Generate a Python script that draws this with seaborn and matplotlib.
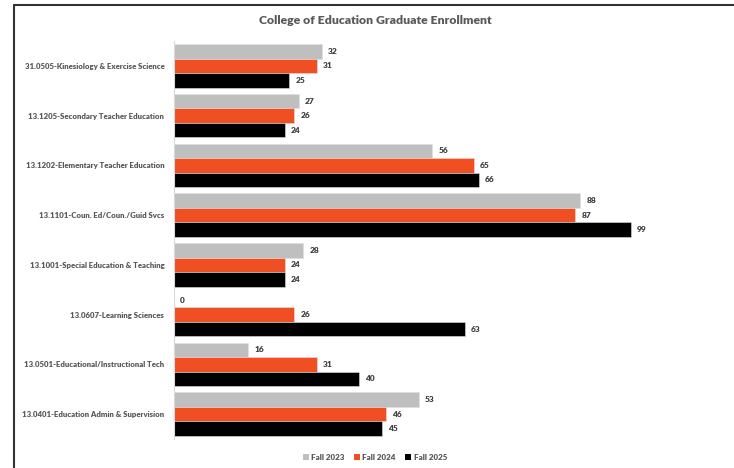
import matplotlib
matplotlib.use("Agg")
import matplotlib.pyplot as plt
import seaborn as sns
import pandas as pd
from matplotlib.patches import Patch
from matplotlib.lines import Line2D

categories = [
    "31.0505-Kinesiology & Exercise Science",
    "13.1205-Secondary Teacher Education",
    "13.1202-Elementary Teacher Education",
    "13.1101-Coun. Ed/Coun./Guid Svcs",
    "13.1001-Special Education & Teaching",
    "13.0607-Learning Sciences",
    "13.0501-Educational/Instructional Tech",
    "13.0401-Education Admin & Supervision",
]
series = ["Fall 2023", "Fall 2024", "Fall 2025"]
fall_2023 = [32, 27, 56, 88, 28, 0, 16, 53]
fall_2024 = [31, 26, 65, 87, 24, 26, 31, 46]
fall_2025 = [25, 24, 66, 99, 24, 63, 40, 45]
colors = ["#BFBFBF", "#F04E23", "#000000"]

rows = []
for name, vals in zip(series, [fall_2023, fall_2024, fall_2025]):
    for c, v in zip(categories, vals):
        rows.append({"Program": c, "Term": name, "Count": v})
df = pd.DataFrame(rows)

sns.set_theme(style="white")
plt.rcParams["font.family"] = ["Lato", "DejaVu Sans"]

fig = plt.figure(figsize=(7.34, 4.68), dpi=100)
ax = fig.add_axes([174 / 734, 1 - 439 / 468, 526 / 734, 398 / 468])

sns.barplot(data=df, y="Program", x="Count", hue="Term", order=categories,
            hue_order=series, palette=colors, orient="h", width=0.87,
            saturation=1, ax=ax, legend=False, edgecolor="#E0E0E0", linewidth=0.4)

for cont in ax.containers:
    ax.bar_label(cont, padding=4.5, fontsize=6.0, fontweight="heavy", color="#404040")

ax.set_xlim(0, 114)
ax.set_xlabel("")
ax.set_ylabel("")
ax.set_xticks([])
ax.set_yticks(range(len(categories)))
ax.set_yticklabels(categories, fontweight="heavy", fontsize=5.6, color="#595959")
ax.tick_params(axis="y", length=0, pad=7)
for s in ["top", "right", "bottom"]:
    ax.spines[s].set_visible(False)
ax.spines["left"].set_color("#D9D9D9")
ax.spines["left"].set_linewidth(0.8)

fig.text(375 / 734, 1 - 20 / 468, "College of Education Graduate Enrollment",
         ha="center", va="center", fontsize=8.8, fontweight="heavy", color="#595959")

handles = [Patch(facecolor=c, edgecolor="none") for c in colors]
fig.legend(handles, series, loc="center", bbox_to_anchor=(375 / 734, 1 - 457 / 468),
           ncol=3, frameon=False, handlelength=0.7, handleheight=0.7,
           handletextpad=0.3, columnspacing=1.2, labelcolor="#595959",
           prop={"weight": "heavy", "size": 5.8})

# frame lines (top and left)
fig.add_artist(Line2D([14 / 734, 1.0], [1 - 5 / 468, 1 - 5 / 468], color="#333333", lw=1.5,
                      transform=fig.transFigure))
fig.add_artist(Line2D([14 / 734, 14 / 734], [0, 1 - 5 / 468], color="#333333", lw=1.5,
                      transform=fig.transFigure))

fig.savefig("out.png", dpi=100)
